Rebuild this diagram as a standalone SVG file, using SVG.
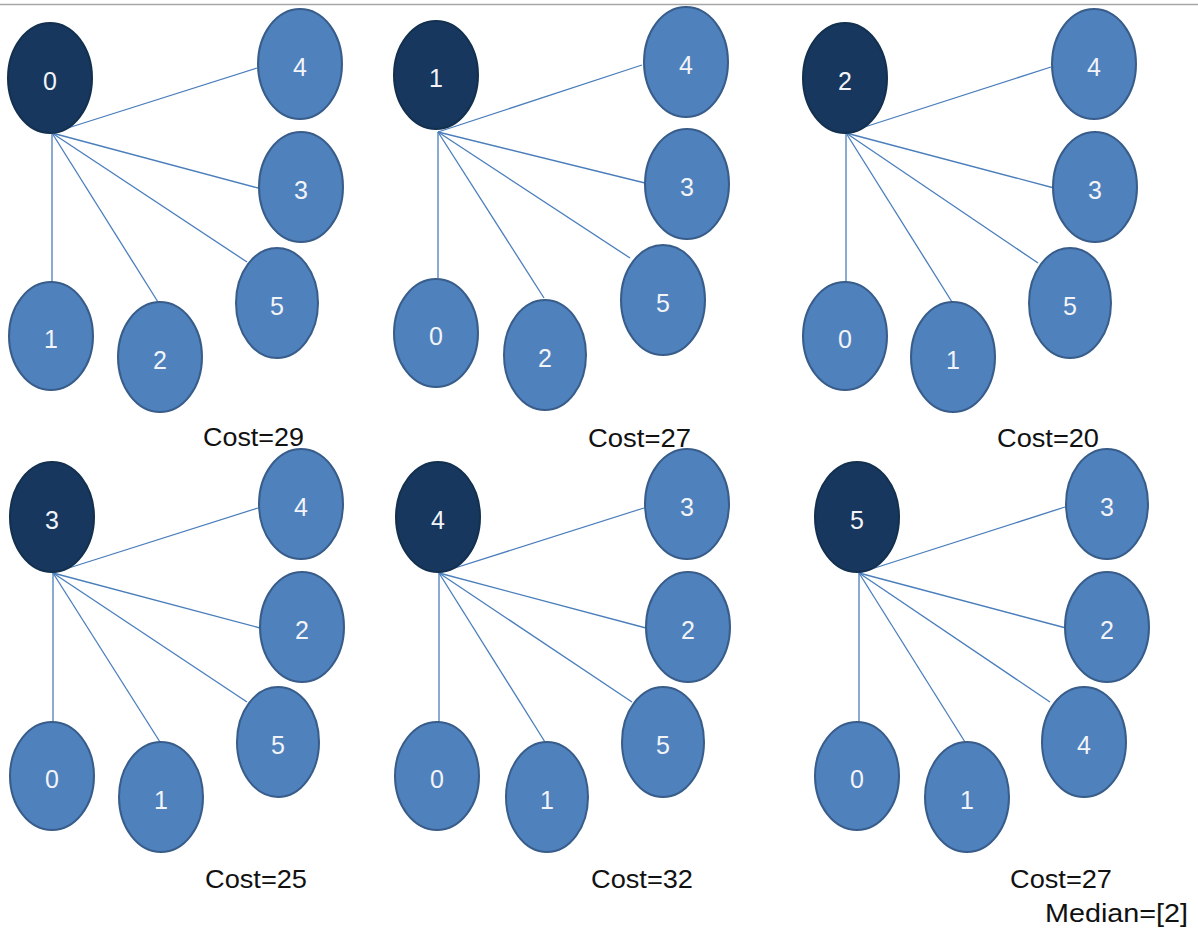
<svg xmlns="http://www.w3.org/2000/svg" width="1198" height="939" viewBox="0 0 1198 939">
<style>
.n ellipse{fill:#4f81bd;stroke:#385d8a;stroke-width:2}
.d ellipse{fill:#17375e;stroke:#13304f;stroke-width:2}
.n text,.d text{font-family:"Liberation Sans",Arial,sans-serif;font-size:25px;fill:#f2f4f8;text-anchor:middle}
.e line{stroke:#4a7ebb;stroke-width:1.3}
.c{font-family:"Liberation Sans",Arial,sans-serif;font-size:26px;fill:#111}
</style>
<rect x="0" y="0" width="1198" height="939" fill="#fff"/>
<line x1="0" y1="4.5" x2="1198" y2="4.5" stroke="#a6a6a6" stroke-width="1.5"/>
<g id="connectors" class="e">
<line x1="52" y1="133" x2="257" y2="68"/><line x1="52" y1="133" x2="258" y2="188"/><line x1="52" y1="133" x2="247" y2="262"/><line x1="52" y1="133" x2="158" y2="302"/><line x1="52" y1="133" x2="52" y2="282"/>
<line x1="438" y1="132" x2="642" y2="65"/><line x1="438" y1="132" x2="645" y2="183"/><line x1="438" y1="132" x2="630" y2="258"/><line x1="438" y1="132" x2="544" y2="298"/><line x1="438" y1="132" x2="438" y2="278"/>
<line x1="846" y1="133" x2="1051" y2="67"/><line x1="846" y1="133" x2="1054" y2="188"/><line x1="846" y1="133" x2="1038" y2="263"/><line x1="846" y1="133" x2="952" y2="302"/><line x1="846" y1="133" x2="846" y2="282"/>
<line x1="53" y1="573" x2="258" y2="508"/><line x1="53" y1="573" x2="260" y2="628"/><line x1="53" y1="573" x2="247" y2="702"/><line x1="53" y1="573" x2="160" y2="742"/><line x1="53" y1="573" x2="53" y2="722"/>
<line x1="439" y1="573" x2="644" y2="508"/><line x1="439" y1="573" x2="646" y2="628"/><line x1="439" y1="573" x2="632" y2="702"/><line x1="439" y1="573" x2="545" y2="742"/><line x1="439" y1="573" x2="439" y2="722"/>
<line x1="859" y1="573" x2="1065" y2="507"/><line x1="859" y1="573" x2="1066" y2="628"/><line x1="859" y1="573" x2="1050" y2="702"/><line x1="859" y1="573" x2="965" y2="742"/><line x1="859" y1="573" x2="859" y2="722"/>
</g>
<g id="panel1">
<g id="p1-n0" class="d"><ellipse cx="50" cy="78" rx="42" ry="55"/><text x="50" y="90">0</text></g>
<g id="p1-n4" class="n"><ellipse cx="300" cy="64" rx="42" ry="55"/><text x="300" y="76">4</text></g>
<g id="p1-n3" class="n"><ellipse cx="301" cy="187" rx="42" ry="55"/><text x="301" y="199">3</text></g>
<g id="p1-n5" class="n"><ellipse cx="277" cy="303" rx="41" ry="55"/><text x="277" y="315">5</text></g>
<g id="p1-n1" class="n"><ellipse cx="51" cy="336" rx="42" ry="54"/><text x="51" y="348">1</text></g>
<g id="p1-n2" class="n"><ellipse cx="160" cy="357" rx="42" ry="55"/><text x="160" y="369">2</text></g>
<text class="c" x="203" y="446" textLength="101" lengthAdjust="spacingAndGlyphs">Cost=29</text>
</g>
<g id="panel2">
<g id="p2-n1" class="d"><ellipse cx="436" cy="75" rx="42" ry="54"/><text x="436" y="87">1</text></g>
<g id="p2-n4" class="n"><ellipse cx="686" cy="62" rx="42" ry="55"/><text x="686" y="74">4</text></g>
<g id="p2-n3" class="n"><ellipse cx="687" cy="184" rx="42" ry="55"/><text x="687" y="196">3</text></g>
<g id="p2-n5" class="n"><ellipse cx="663" cy="300" rx="42" ry="55"/><text x="663" y="312">5</text></g>
<g id="p2-n0" class="n"><ellipse cx="436" cy="333" rx="42" ry="54"/><text x="436" y="345">0</text></g>
<g id="p2-n2" class="n"><ellipse cx="545" cy="355" rx="41" ry="55"/><text x="545" y="367">2</text></g>
<text class="c" x="588" y="447" textLength="103" lengthAdjust="spacingAndGlyphs">Cost=27</text>
</g>
<g id="panel3">
<g id="p3-n2" class="d"><ellipse cx="845" cy="78" rx="42" ry="55"/><text x="845" y="90">2</text></g>
<g id="p3-n4" class="n"><ellipse cx="1094" cy="64" rx="42" ry="55"/><text x="1094" y="76">4</text></g>
<g id="p3-n3" class="n"><ellipse cx="1095" cy="187" rx="42" ry="55"/><text x="1095" y="199">3</text></g>
<g id="p3-n5" class="n"><ellipse cx="1070" cy="303" rx="41" ry="55"/><text x="1070" y="315">5</text></g>
<g id="p3-n0" class="n"><ellipse cx="845" cy="336" rx="42" ry="54"/><text x="845" y="348">0</text></g>
<g id="p3-n1" class="n"><ellipse cx="953" cy="357" rx="42" ry="55"/><text x="953" y="369">1</text></g>
<text class="c" x="997" y="447" textLength="102" lengthAdjust="spacingAndGlyphs">Cost=20</text>
</g>
<g id="panel4">
<g id="p4-n3" class="d"><ellipse cx="52" cy="517" rx="42" ry="55"/><text x="52" y="529">3</text></g>
<g id="p4-n4" class="n"><ellipse cx="301" cy="504" rx="42" ry="55"/><text x="301" y="516">4</text></g>
<g id="p4-n2" class="n"><ellipse cx="302" cy="627" rx="42" ry="55"/><text x="302" y="639">2</text></g>
<g id="p4-n5" class="n"><ellipse cx="278" cy="742" rx="41" ry="55"/><text x="278" y="754">5</text></g>
<g id="p4-n0" class="n"><ellipse cx="52" cy="776" rx="42" ry="54"/><text x="52" y="788">0</text></g>
<g id="p4-n1" class="n"><ellipse cx="161" cy="797" rx="42" ry="55"/><text x="161" y="809">1</text></g>
<text class="c" x="205" y="888" textLength="102" lengthAdjust="spacingAndGlyphs">Cost=25</text>
</g>
<g id="panel5">
<g id="p5-n4" class="d"><ellipse cx="438" cy="517" rx="42" ry="55"/><text x="438" y="529">4</text></g>
<g id="p5-n3" class="n"><ellipse cx="687" cy="504" rx="42" ry="55"/><text x="687" y="516">3</text></g>
<g id="p5-n2" class="n"><ellipse cx="688" cy="627" rx="42" ry="55"/><text x="688" y="639">2</text></g>
<g id="p5-n5" class="n"><ellipse cx="663" cy="742" rx="41" ry="55"/><text x="663" y="754">5</text></g>
<g id="p5-n0" class="n"><ellipse cx="437" cy="776" rx="42" ry="54"/><text x="437" y="788">0</text></g>
<g id="p5-n1" class="n"><ellipse cx="547" cy="797" rx="41" ry="55"/><text x="547" y="809">1</text></g>
<text class="c" x="591" y="888" textLength="102" lengthAdjust="spacingAndGlyphs">Cost=32</text>
</g>
<g id="panel6">
<g id="p6-n5" class="d"><ellipse cx="857" cy="517" rx="42" ry="55"/><text x="857" y="529">5</text></g>
<g id="p6-n3" class="n"><ellipse cx="1107" cy="504" rx="41" ry="55"/><text x="1107" y="516">3</text></g>
<g id="p6-n2" class="n"><ellipse cx="1107" cy="627" rx="42" ry="55"/><text x="1107" y="639">2</text></g>
<g id="p6-n4" class="n"><ellipse cx="1084" cy="742" rx="42" ry="55"/><text x="1084" y="754">4</text></g>
<g id="p6-n0" class="n"><ellipse cx="857" cy="776" rx="42" ry="54"/><text x="857" y="788">0</text></g>
<g id="p6-n1" class="n"><ellipse cx="967" cy="797" rx="42" ry="55"/><text x="967" y="809">1</text></g>
<text class="c" x="1010" y="888" textLength="102" lengthAdjust="spacingAndGlyphs">Cost=27</text>
<text class="c" x="1045" y="922" textLength="143" lengthAdjust="spacingAndGlyphs">Median=[2]</text>
</g>
</svg>
